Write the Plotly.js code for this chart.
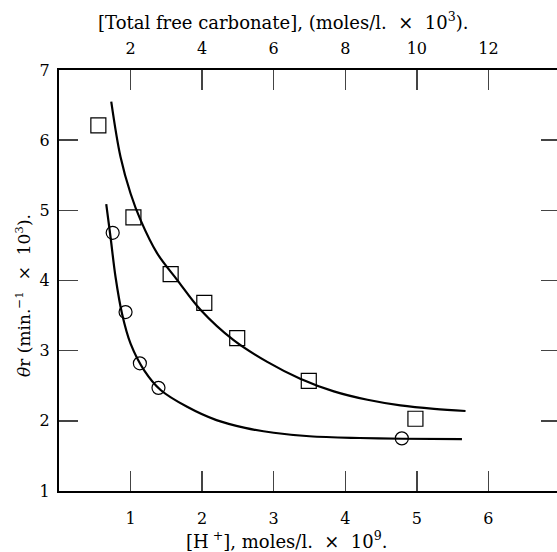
<!DOCTYPE html>
<html>
<head>
<meta charset="utf-8">
<script src="https://cdn.plot.ly/plotly-3.0.1.min.js"></script>
<style>html,body{margin:0;padding:0;overflow:hidden;background:#fff;}</style>
</head>
<body>
<div id="chart"></div>
<script>
// Data
const squareX = [0.55, 1.04, 1.56, 2.03, 2.49, 3.49, 4.98];
const squareY = [6.21, 4.90, 4.09, 3.68, 3.18, 2.57, 2.03];
const circleX = [0.75, 0.93, 1.13, 1.39, 4.79];
const circleY = [4.68, 3.55, 2.82, 2.47, 1.75];
const upperCurveX = [0.73, 0.86, 1.00, 1.14, 1.37, 1.65, 1.98, 2.44, 2.91, 3.37, 3.84, 4.31, 4.77, 5.24, 5.68];
const upperCurveY = [6.55, 5.76, 5.24, 4.86, 4.39, 4.01, 3.58, 3.15, 2.84, 2.60, 2.42, 2.30, 2.22, 2.17, 2.14];
const lowerCurveX = [0.66, 0.72, 0.79, 0.88, 1.00, 1.19, 1.42, 1.79, 2.20, 2.60, 3.00, 3.50, 4.20, 4.80, 5.63];
const lowerCurveY = [5.09, 4.62, 4.05, 3.53, 3.10, 2.72, 2.44, 2.20, 2.01, 1.90, 1.83, 1.78, 1.755, 1.745, 1.74];
const bottomTicks = [1, 2, 3, 4, 5, 6];
const topTicks = [2, 4, 6, 8, 10, 12];
const yTicks = [1, 2, 3, 4, 5, 6, 7];

const font = "DejaVu Serif, serif";

const traces = [
  {x: upperCurveX, y: upperCurveY, mode: 'lines', line: {color: '#000', width: 2.2, shape: 'spline', smoothing: 1}, hoverinfo: 'skip'},
  {x: lowerCurveX, y: lowerCurveY, mode: 'lines', line: {color: '#000', width: 2.2, shape: 'spline', smoothing: 1}, hoverinfo: 'skip'},
  {x: squareX, y: squareY, mode: 'markers', marker: {symbol: 'square-open', size: 15, color: '#000', line: {width: 1.2}}},
  {x: circleX, y: circleY, mode: 'markers', marker: {symbol: 'circle-open', size: 13, color: '#000', line: {width: 1.2}}},
  {x: [], y: [], xaxis: 'x2', yaxis: 'y', mode: 'markers', showlegend: false}
];

const layout = {
  width: 566, height: 552,
  margin: {l: 59, r: 6, t: 70, b: 61},
  showlegend: false,
  paper_bgcolor: '#fff', plot_bgcolor: '#fff',
  font: {family: font, size: 16, color: '#000'},
  xaxis: {
    range: [0, 7], tickvals: bottomTicks, ticks: 'inside', ticklen: 20, tickwidth: 1.5,
    showline: true, linewidth: 2, linecolor: '#000', showgrid: false, zeroline: false,
    ticklabelstandoff: 12, tickfont: {family: font, size: 16}
  },
  xaxis2: {
    overlaying: 'x', side: 'top', range: [0, 14], tickvals: topTicks, ticks: 'inside', ticklen: 20, tickwidth: 1.5,
    showline: true, linewidth: 2, linecolor: '#000', showgrid: false, zeroline: false,
    ticklabelstandoff: 8, tickfont: {family: font, size: 16}
  },
  yaxis: {
    range: [1, 7], tickvals: yTicks, ticks: 'inside', ticklen: 19, tickwidth: 1.5,
    showline: true, linewidth: 2, linecolor: '#000', showgrid: false, zeroline: false, mirror: 'ticks',
    ticklabelstandoff: 4, tickfont: {family: font, size: 16}
  },
  annotations: [
    {text: '[Total free carbonate], (moles/l.  ×  10<sup>3</sup>).', xref: 'paper', yref: 'paper',
     x: (283 - 59) / 501, y: 1, yshift: 49, xanchor: 'center', yanchor: 'middle', showarrow: false,
     font: {family: font, size: 18}},
    {text: '[H<sup> +</sup>], moles/l.  ×  10<sup>9</sup>.', xref: 'paper', yref: 'paper',
     x: (286 - 59) / 501, y: 0, yshift: -49, xanchor: 'center', yanchor: 'middle', showarrow: false,
     font: {family: font, size: 18}},
    {text: '<i>θ</i>r (min.<sup>−1</sup>  ×  10<sup>3</sup>).', xref: 'paper', yref: 'paper',
     x: 0, xshift: -36, y: (491 - 296) / 421, xanchor: 'center', yanchor: 'middle', showarrow: false,
     textangle: -90, font: {family: font, size: 17}}
  ]
};

Plotly.newPlot('chart', traces, layout, {staticPlot: true, displayModeBar: false});
</script>
</body>
</html>
